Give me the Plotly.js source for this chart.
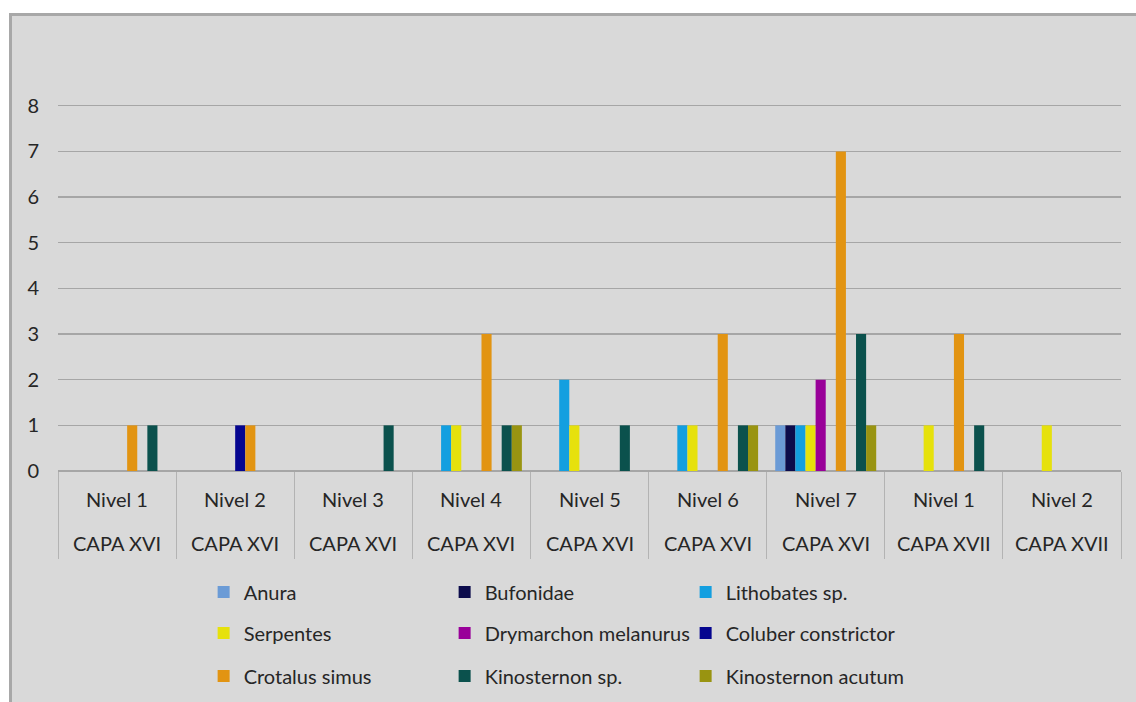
<!DOCTYPE html>
<html>
<head>
<meta charset="utf-8">
<script src="https://cdn.plot.ly/plotly-3.0.1.min.js"></script>
<style>
  html, body { margin: 0; padding: 0; background: #ffffff; width: 1136px; height: 702px; overflow: hidden; }
  #frame { position: absolute; left: 9px; top: 13px; width: 1124px; height: 686px;
           border-left: 3px solid #a8a8a8; border-top: 3px solid #a8a8a8; background: #d9d9d9; }
  #chart { width: 1124px; height: 686px; }
</style>
</head>
<body>
<div id="frame"><div id="chart"></div></div>
<script>
// Excavation units: level within each layer
const levels = ['Nivel 1', 'Nivel 2', 'Nivel 3', 'Nivel 4', 'Nivel 5', 'Nivel 6', 'Nivel 7', 'Nivel 1', 'Nivel 2'];
const layers = ['CAPA XVI', 'CAPA XVI', 'CAPA XVI', 'CAPA XVI', 'CAPA XVI', 'CAPA XVI', 'CAPA XVI', 'CAPA XVII', 'CAPA XVII'];

// Specimen counts per taxon and unit
const anura             = [0, 0, 0, 0, 0, 0, 1, 0, 0];
const bufonidae         = [0, 0, 0, 0, 0, 0, 1, 0, 0];
const lithobates        = [0, 0, 0, 1, 2, 1, 1, 0, 0];
const serpentes         = [0, 0, 0, 1, 1, 1, 1, 1, 1];
const drymarchon        = [0, 0, 0, 0, 0, 0, 2, 0, 0];
const coluber           = [0, 1, 0, 0, 0, 0, 0, 0, 0];
const crotalus          = [1, 1, 0, 3, 0, 3, 7, 3, 0];
const sinRegistro       = [0, 0, 0, 0, 0, 0, 0, 0, 0];
const kinosternonSp     = [1, 0, 1, 1, 1, 1, 3, 1, 0];
const kinosternonAcutum = [0, 0, 0, 1, 0, 1, 1, 0, 0];

const yTicks = [0, 1, 2, 3, 4, 5, 6, 7, 8];

// One key per unit (level + layer) so repeated level names stay distinct
const units = levels.map((lv, i) => lv + ' / ' + layers[i]);

const FONT = 'Lato, "Open Sans", sans-serif';
const TEXT = '#262626';

const series = [
  { name: 'Anura',                y: anura,             color: '#6b9bd6', legend: 'legend'  },
  { name: 'Bufonidae',            y: bufonidae,         color: '#0c0c4c', legend: 'legend'  },
  { name: 'Lithobates sp.',       y: lithobates,        color: '#139fe0', legend: 'legend'  },
  { name: 'Serpentes',            y: serpentes,         color: '#e6e10c', legend: 'legend2' },
  { name: 'Drymarchon melanurus', y: drymarchon,        color: '#990099', legend: 'legend2' },
  { name: 'Coluber constrictor',  y: coluber,           color: '#05058f', legend: 'legend2' },
  { name: 'Crotalus simus',       y: crotalus,          color: '#e29412', legend: 'legend3' },
  { name: '',                     y: sinRegistro,       color: '#d9d9d9', legend: 'legend3', hidden: true },
  { name: 'Kinosternon sp.',      y: kinosternonSp,     color: '#0b514d', legend: 'legend3' },
  { name: 'Kinosternon acutum',   y: kinosternonAcutum, color: '#999411', legend: 'legend3' }
];

const data = series.map(s => ({
  type: 'bar',
  name: s.name,
  x: units,
  y: s.y,
  marker: { color: s.color },
  legend: s.legend,
  showlegend: !s.hidden,
  hoverinfo: s.hidden ? 'skip' : 'x+y+name'
}));

// Two-row category labels under the axis
const annotations = [];
units.forEach((u, i) => {
  annotations.push({ x: u, y: 0, xref: 'x', yref: 'y', text: levels[i], showarrow: false,
    yanchor: 'middle', yshift: -28, font: { family: FONT, size: 20, color: TEXT } });
  annotations.push({ x: u, y: 0, xref: 'x', yref: 'y', text: layers[i], showarrow: false,
    yanchor: 'middle', yshift: -72, font: { family: FONT, size: 20, color: TEXT } });
});

const legendBase = {
  orientation: 'h', x: 0.137, xanchor: 'left', yanchor: 'middle', yref: 'container',
  bgcolor: 'rgba(0,0,0,0)', entrywidth: 196, entrywidthmode: 'pixels',
  font: { family: FONT, size: 20, color: TEXT }, traceorder: 'normal'
};

const layout = {
  width: 1124, height: 686,
  margin: { l: 46, r: 15, t: 88, b: 231, autoexpand: false },
  paper_bgcolor: '#d9d9d9',
  plot_bgcolor: '#d9d9d9',
  barmode: 'group',
  bargap: 0.145,
  bargroupgap: 0,
  font: { family: FONT, size: 20, color: TEXT },
  xaxis: {
    type: 'category',
    showticklabels: false,
    showgrid: false,
    zeroline: false,
    showline: false,
    ticks: 'outside',
    tickson: 'boundaries',
    ticklen: 87,
    tickwidth: 1,
    tickcolor: '#b3b3b3',
    fixedrange: true
  },
  yaxis: {
    range: [0, 8.04],
    tickvals: yTicks,
    ticktext: yTicks.map(String),
    showgrid: true,
    gridcolor: '#a6a6a6',
    gridwidth: 1.3,
    zeroline: true,
    zerolinecolor: '#a6a6a6',
    zerolinewidth: 1.3,
    showline: false,
    ticks: '',
    ticklabelstandoff: 18,
    tickfont: { family: FONT, size: 20, color: TEXT },
    fixedrange: true
  },
  legend:  Object.assign({}, legendBase, { y: 0.1603 }),
  legend2: Object.assign({}, legendBase, { y: 0.1006 }),
  legend3: Object.assign({}, legendBase, { y: 0.0379 }),
  annotations: annotations,
  showlegend: true
};

Plotly.newPlot('chart', data, layout, { displayModeBar: false, staticPlot: true });
</script>
</body>
</html>
